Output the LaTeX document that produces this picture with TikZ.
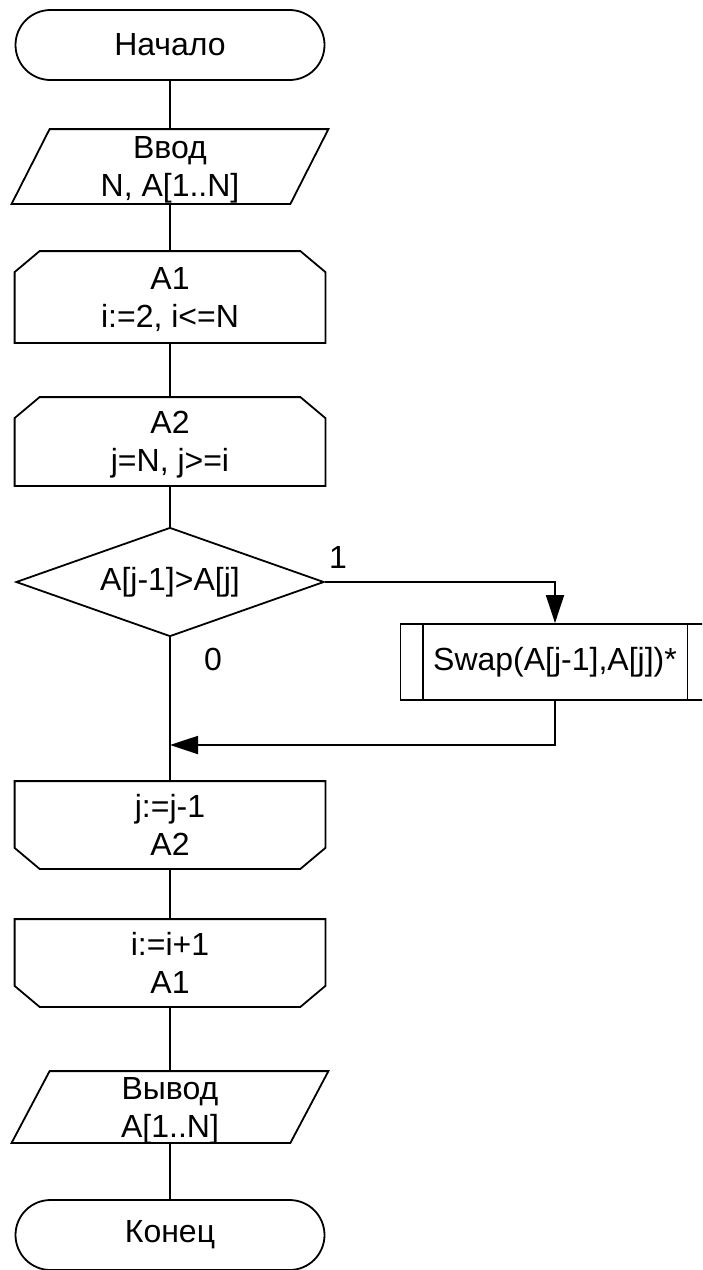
\documentclass[tikz,border=0pt]{standalone}
\usepackage{fontspec}
\setmainfont{Liberation Sans}
\usetikzlibrary{shapes.geometric,shapes.misc,arrows.meta}

\begin{document}
\begin{tikzpicture}[
x=0.5pt,
y=-0.5pt,
base/.style={
  line width=0.9pt,
  align=center,
  inner sep=0pt,
  font=\fontsize{16}{19}\selectfont
  },
term/.style={
  base,
  draw,
  rounded rectangle,
  minimum width=154.5pt,
  minimum height=35pt
  },
io/.style={
  base,
  rectangle,
  text depth=0pt,
  minimum width=157.5pt,
  minimum height=36.5pt
  },
loopbox/.style={
  base,
  rectangle,
  text depth=0pt,
  minimum width=154.5pt,
  minimum height=45pt
  },
cond/.style={
  base,
  draw,
  diamond,
  aspect=2.83,
  minimum width=154pt,
  minimum height=54.5pt
  },
proc/.style={
  base,
  draw,
  rectangle,
  minimum width=154.5pt,
  minimum height=38pt
  },
lbl/.style={
  font=\fontsize{16}{19}\selectfont
  },
line/.style={
  line width=0.9pt
  },
>={Triangle[length=14pt,width=9pt]}
]
\useasboundingbox (0,0) rectangle (702,1270);
\clip (0,0) rectangle (702,1270);

\node[term] (start) at (170,45) {Начало};
\node[io] (in) at (170,166.5) {Ввод\\N, A[1..N]};
\node[loopbox] (a1) at (170,297) {A1\\i:=2, i<=N};
\node[loopbox, minimum height=43.5pt] (a2) at (170,441.5) {A2\\j=N, j>=i};
\node[cond] (cmp) at (170,582) {A[j-1]>A[j]};
\node[proc] (swap) at (555,662) {Swap(A[j-1],A[j])*};
\node[loopbox, minimum height=43pt] (a2end) at (170,825) {j:=j-1\\A2};
\node[loopbox, minimum height=43pt] (a1end) at (170,963) {i:=i+1\\A1};
\node[io, minimum height=35pt] (out) at (170,1107) {Вывод\\A[1..N]};
\node[term] (stop) at (170,1235) {Конец};

\node[lbl] (yes) at (338,557) {1};
\node[lbl] (no) at (213,659) {0};
\coordinate (merge) at (170,745);

% outlines: input/output, loop start, loop end
\foreach \n in {in,out}
  \draw[line] (\n.south west) -- ([xshift=19pt]\n.north west) -- (\n.north east)
    -- ([xshift=-19pt]\n.south east) -- cycle;
\foreach \n in {a1,a2}
  \draw[line] (\n.south west) -- ([yshift=-10.5pt]\n.north west) -- ([xshift=12.5pt]\n.north west)
    -- ([xshift=-12.5pt]\n.north east) -- ([yshift=-10.5pt]\n.north east) -- (\n.south east) -- cycle;
\foreach \n in {a2end,a1end}
  \draw[line] (\n.north west) -- ([yshift=10.5pt]\n.south west) -- ([xshift=12.5pt]\n.south west)
    -- ([xshift=-12.5pt]\n.south east) -- ([yshift=10.5pt]\n.south east) -- (\n.north east) -- cycle;

% side lines of the swap block
\draw[line] ([xshift=11.5pt]swap.north west) -- ([xshift=11.5pt]swap.south west);
\draw[line] ([xshift=-11.5pt]swap.north east) -- ([xshift=-11.5pt]swap.south east);

\foreach \a/\b in {start/in,in/a1,a1/a2,a2/cmp,cmp/a2end,a2end/a1end,a1end/out,out/stop}
  \draw[line] (\a.south) -- (\b.north);

\draw[line,->] (cmp.east) -| (swap.north);
\draw[line,->] (swap.south) |- (merge);

\end{tikzpicture}
\end{document}
